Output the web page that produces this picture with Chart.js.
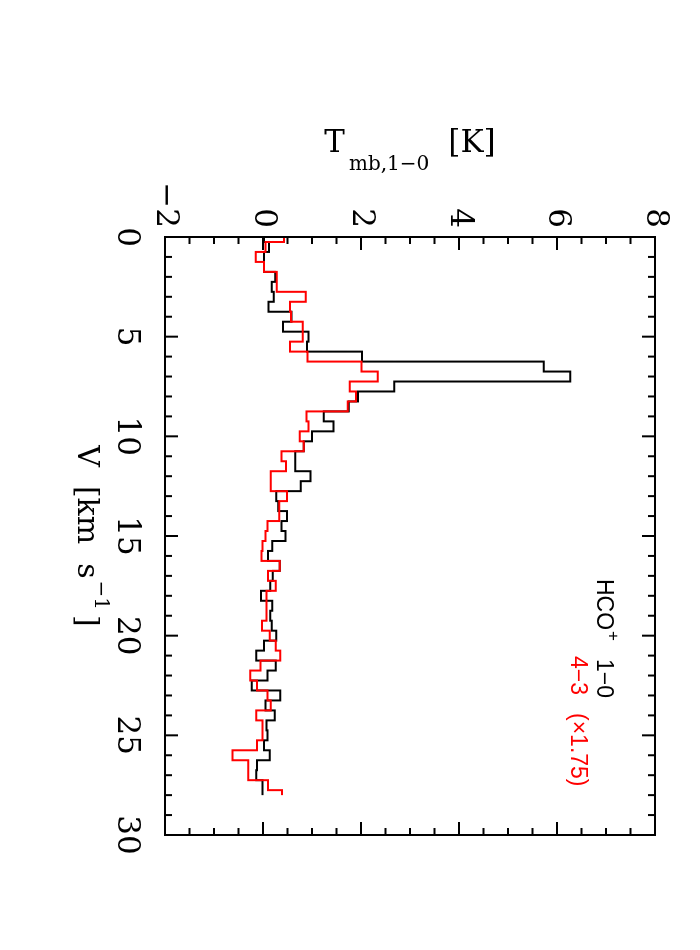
<!DOCTYPE html>
<html>
<head>
<meta charset="utf-8">
<script src="https://cdn.jsdelivr.net/npm/chart.js@4.4.0/dist/chart.umd.min.js"></script>
<style>
  html, body { margin: 0; padding: 0; background: #fff; overflow: hidden; }
  /* the plot is drawn lying on its side, then turned a quarter clockwise */
  #wrap { position: absolute; left: 0; top: 0; width: 950px; height: 700px;
          transform-origin: 0 0; transform: translate(700px, 0) rotate(90deg); }
</style>
</head>
<body>
<div id="wrap"><canvas id="spectrum" width="950" height="700"></canvas></div>
<script>
/*
DATA
*/
// channel velocities [km/s]
const velocity = [0, 0.5, 1, 1.5, 2, 2.5, 3, 3.5, 4, 4.5,
  5, 5.5, 6, 6.5, 7, 7.5, 8, 8.5, 9, 9.5,
  10, 10.5, 11, 11.5, 12, 12.5, 13, 13.5, 14, 14.5,
  15, 15.5, 16, 16.5, 17, 17.5, 18, 18.5, 19, 19.5,
  20, 20.5, 21, 21.5, 22, 22.5, 23, 23.5, 24, 24.5,
  25, 25.5, 26, 26.5, 27, 27.5, 28];

// HCO+ 1-0, Tmb [K]
const hco10 = [0.02, 0.12, 0.02, 0.02, 0.25, 0.18, 0.22, 0.11, 0.58, 0.41,
  0.93, 0.90, 2.02, 5.73, 6.27, 2.68, 1.94, 1.75, 1.24, 1.44,
  1.00, 0.83, 0.66, 0.66, 0.97, 0.77, 0.27, 0.31, 0.49, 0.38,
  0.46, 0.19, 0.10, 0.34, 0.20, 0.15, -0.04, 0.19, 0.15, 0.18,
  0.27, 0.02, -0.14, 0.26, 0.09, -0.23, 0.35, 0.05, 0.24, 0.07,
  0.09, 0.02, 0.14, -0.12, -0.14, -0.01, -0.01];

// HCO+ 4-3 scaled by 1.75, Tmb [K]
const hco43 = [0.43, 0.05, -0.15, 0.02, 0.28, 0.28, 0.87, 0.55, 0.57, 0.81,
  0.81, 0.55, 0.91, 2.01, 2.34, 1.77, 1.90, 1.73, 0.89, 0.93,
  0.75, 0.83, 0.38, 0.47, 0.16, 0.16, 0.49, 0.33, 0.33, 0.09,
  0.05, -0.01, -0.03, 0.34, 0.10, 0.26, 0.07, 0.07, 0.07, -0.02,
  0.14, 0.26, 0.35, -0.05, -0.26, -0.12, 0.09, 0.16, -0.14, -0.01,
  -0.01, -0.12, -0.62, -0.30, -0.30, 0.10, 0.39];

// axis ticks
const vTicks = [0, 5, 10, 15, 20, 25, 30];
const vTickLabels = ['0', '5', '10', '15', '20', '25', '30'];
const tTicks = [-2, 0, 2, 4, 6, 8];
const tTickLabels = ['\u22122', '0', '2', '4', '6', '8'];

/*
PLUGINS
*/
const SERIF = '"DejaVu Serif", serif';
const NARROW = '"Liberation Sans Narrow", "Liberation Sans", Arial, sans-serif';

// box round the plot with inward ticks on all four sides
const framePlugin = {
  id: 'frame',
  afterDatasetsDraw(chart) {
    const {ctx, chartArea: a, scales: {x, y}} = chart;
    ctx.save();
    ctx.strokeStyle = '#000';
    ctx.lineWidth = 2;
    ctx.beginPath();
    for (let v = x.min; v <= x.max; v += 1) {
      const px = x.getPixelForValue(v);
      const len = v % 5 === 0 ? 13 : 7;
      ctx.moveTo(px, a.bottom); ctx.lineTo(px, a.bottom - len);
      ctx.moveTo(px, a.top); ctx.lineTo(px, a.top + len);
    }
    for (let t = y.min; t <= y.max; t += 0.5) {
      const py = y.getPixelForValue(t);
      const len = t % 2 === 0 ? 13 : 7;
      ctx.moveTo(a.left, py); ctx.lineTo(a.left + len, py);
      ctx.moveTo(a.right, py); ctx.lineTo(a.right - len, py);
    }
    ctx.stroke();
    ctx.strokeRect(a.left, a.top, a.right - a.left, a.bottom - a.top);
    ctx.restore();
  }
};

// axis titles with sub/superscripts, and the line labels
const textPlugin = {
  id: 'texts',
  afterDraw(chart) {
    const {ctx, chartArea: a} = chart;
    ctx.save();
    ctx.fillStyle = '#000';
    ctx.textBaseline = 'alphabetic';
    ctx.textAlign = 'left';

    // y title: T_mb,1-0 [K], read bottom to top
    const big = '31px ' + SERIF, small = '20px ' + SERIF;
    ctx.font = big;
    const wT = ctx.measureText('T').width;
    const wK = ctx.measureText('[K]').width;
    ctx.font = small;
    const wSub = ctx.measureText('mb,1\u22120').width;
    const total = wT + 4 + wSub + 19 + wK;
    ctx.save();
    ctx.translate(a.left - 85, (a.top + a.bottom) / 2);
    ctx.rotate(-Math.PI / 2);
    let cx = -total / 2;
    ctx.font = big;
    ctx.fillText('T', cx, 0);
    cx += wT + 4;
    ctx.font = small;
    ctx.fillText('mb,1\u22120', cx, 18);
    cx += wSub + 19;
    ctx.font = big;
    ctx.fillText('[K]', cx, 0);
    ctx.restore();

    // x title: V [km s^-1], wide word gaps like the original
    const mid = '30px ' + SERIF;
    ctx.font = mid;
    const wV = ctx.measureText('V').width;
    const wKm = ctx.measureText('[km').width;
    const wS = ctx.measureText('s').width;
    const wBr = ctx.measureText(']').width;
    ctx.font = small;
    const wSup = ctx.measureText('\u22121').width;
    const gap = 19;
    const wAll = wV + gap + wKm + gap + wS + 2 + wSup + 5 + wBr;
    let vx = (a.left + a.right) / 2 - wAll / 2;
    const vy = a.bottom + 87;
    ctx.font = mid;
    ctx.fillText('V', vx, vy);
    vx += wV + gap;
    ctx.fillText('[km', vx, vy);
    vx += wKm + gap;
    ctx.fillText('s', vx, vy);
    vx += wS + 2;
    ctx.font = small;
    ctx.fillText('\u22121', vx, vy - 17);
    vx += wSup + 5;
    ctx.font = mid;
    ctx.fillText(']', vx, vy);

    // line labels
    ctx.font = '23px ' + NARROW;
    ctx.fillStyle = '#000';
    const lx = a.left + 342;
    ctx.fillText('HCO', lx, a.top + 58);
    const wH = ctx.measureText('HCO').width;
    ctx.font = '17px ' + NARROW;
    ctx.fillText('+', lx + wH + 1, a.top + 47);
    ctx.font = '23px ' + NARROW;
    ctx.fillText('1\u22120', lx + 80, a.top + 58);
    ctx.fillStyle = '#ff0000';
    ctx.fillText('4\u22123', lx + 77, a.top + 84);
    ctx.fillText('(\u00d71.75)', lx + 134, a.top + 84);
    ctx.restore();
  }
};

/*
CHART
*/
const canvasSpectrum = document.getElementById('spectrum');

let spectrum = new Chart(canvasSpectrum, {
  type: 'line',
  data: {
    datasets: [{
      label: 'HCO+ 1-0',
      data: velocity.map((v, i) => ({x: v, y: hco10[i]})),
      borderColor: '#000000',
      borderWidth: 2,
      stepped: 'middle',
      pointRadius: 0,
      fill: false,
      order: 2
    }, {
      label: '4-3 (x1.75)',
      data: velocity.map((v, i) => ({x: v, y: hco43[i]})),
      borderColor: '#ff0000',
      borderWidth: 2,
      stepped: 'middle',
      pointRadius: 0,
      fill: false,
      order: 1
    }]
  },
  options: {
    responsive: false,
    animation: false,
    devicePixelRatio: 1,
    layout: { padding: { left: 0, right: 115, top: 45, bottom: 0 } },
    plugins: {
      legend: { display: false },
      tooltip: { enabled: false }
    },
    scales: {
      x: {
        type: 'linear',
        min: 0,
        max: 30,
        grid: { display: false, drawTicks: false },
        border: { display: false },
        afterBuildTicks: s => { s.ticks = vTicks.map(v => ({value: v})); },
        afterFit: s => { s.height = 165; },
        ticks: {
          padding: 20,
          maxRotation: 0,
          autoSkip: false,
          color: '#000',
          font: { family: SERIF, size: 31 },
          callback: (val, i) => vTickLabels[i]
        }
      },
      y: {
        type: 'linear',
        min: -2,
        max: 8,
        grid: { display: false, drawTicks: false },
        border: { display: false },
        afterBuildTicks: s => { s.ticks = tTicks.map(t => ({value: t})); },
        afterFit: s => { s.width = 237; },
        ticks: {
          padding: 9,
          autoSkip: false,
          color: '#000',
          font: { family: SERIF, size: 31 },
          callback: (val, i) => tTickLabels[i]
        }
      }
    }
  },
  plugins: [framePlugin, textPlugin]
});
</script>
</body>
</html>
